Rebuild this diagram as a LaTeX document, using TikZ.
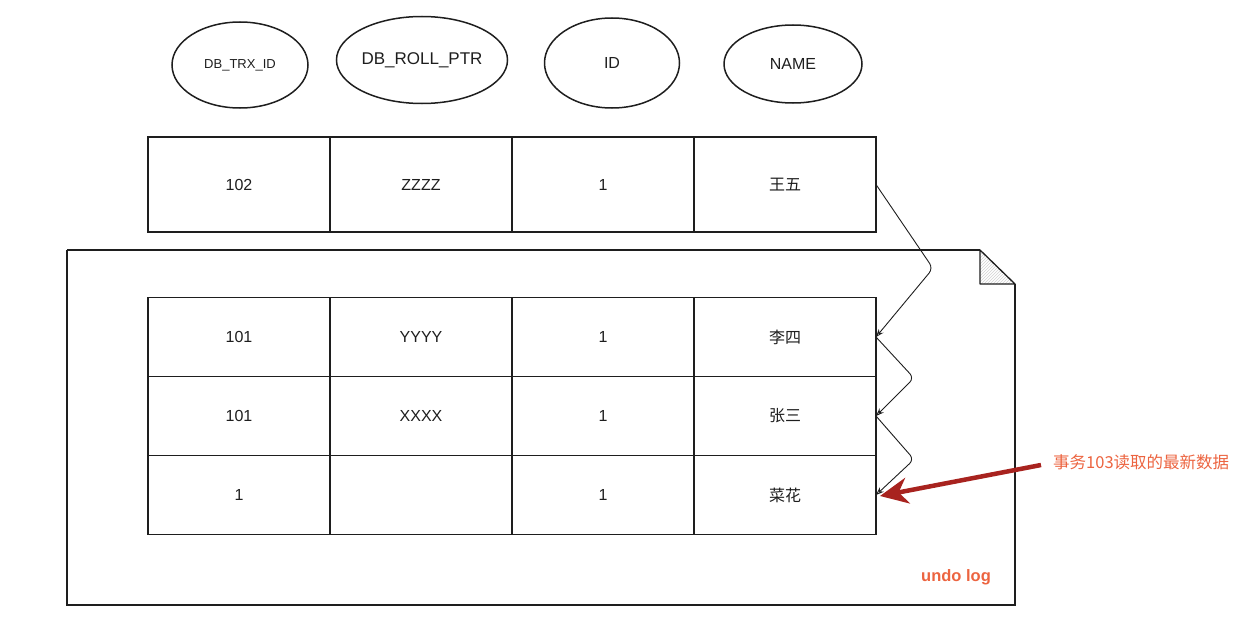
\documentclass[tikz,border=0pt]{standalone}
\usepackage{fontspec}
\setmainfont{Liberation Sans}
\newfontfamily\cjk{Noto Sans CJK SC}
\usetikzlibrary{arrows.meta,calc,patterns,shapes.geometric}
\definecolor{ink}{HTML}{1E1E1E}
\definecolor{darkred}{HTML}{A8231F}
\definecolor{note}{HTML}{EC6440}
\begin{document}
\begin{tikzpicture}[x=1pt,y=-1pt,
  ink/.style={draw=ink,line width=1.3pt},
  field/.style={draw=ink,line width=1.5pt,ellipse,inner sep=0pt,text=ink},
  cell/.style={ink,rectangle,minimum width=182pt,inner sep=0pt,outer sep=0pt,
    font=\fontsize{16}{19}\selectfont,text=ink},
  toprow/.style={cell,minimum height=95pt},
  logrow/.style={cell,minimum height=79pt},
  link/.style={draw=ink,line width=0.9pt,rounded corners=6pt,
    -{Stealth[open,length=8pt,width=6pt]}},
  readarr/.style={draw=darkred,line width=4.5pt,
    -{Stealth[length=28pt,width=26pt,inset=9pt]}},
  notetext/.style={text=note,font=\fontsize{16.5}{19}\selectfont,inner sep=0pt}
]
\useasboundingbox (0,0) rectangle (1240,626);

% column header ellipses
\node[field,minimum width=136pt,minimum height=86pt,font=\fontsize{13}{15}\selectfont] (h1) at (240,65) {DB\_TRX\_ID};
\node[field,minimum width=135pt,minimum height=87pt,font=\fontsize{17}{20}\selectfont] (h2) at (422,60) {DB\_ROLL\_PTR};
\node[field,minimum width=135pt,minimum height=90pt,font=\fontsize{16}{19}\selectfont] (h3) at (612,63) {ID};
\node[field,minimum width=138pt,minimum height=78pt,font=\fontsize{16}{19}\selectfont] (h4) at (793,64) {NAME};

% current row
\node[toprow] (t1) at (239,184.5) {102};
\node[toprow] (t2) at (421,184.5) {ZZZZ};
\node[toprow] (t3) at (603,184.5) {1};
\node[toprow] (t4) at (785,184.5) {\cjk 王五};

% undo log document
\draw[ink] (67,250) -- (980,250);
\draw[ink] (1015,284) -- (1015,605) -- (67,605) -- (67,250);
\fill[pattern=north east lines,pattern color=gray!35] (980,250) -- (980,284) -- (1015,284) -- cycle;
\draw[ink,line join=round] (980,250) -- (1015,284) -- (980,284) -- cycle;
\node[notetext,font=\fontsize{16.5}{19}\selectfont\bfseries] (undo) at (956,577) {undo log};

% undo log rows
\node[logrow] (a1) at (239,337) {101};
\node[logrow] (a2) at (421,337) {YYYY};
\node[logrow] (a3) at (603,337) {1};
\node[logrow] (a4) at (785,337) {\cjk 李四};
\node[logrow] (b1) at (239,416) {101};
\node[logrow] (b2) at (421,416) {XXXX};
\node[logrow] (b3) at (603,416) {1};
\node[logrow] (b4) at (785,416) {\cjk 张三};
\node[logrow] (c1) at (239,495) {1};
\node[logrow] (c2) at (421,495) {};
\node[logrow] (c3) at (603,495) {1};
\node[logrow] (c4) at (785,495) {\cjk 菜花};

% version chain
\draw[link] (t4.east) -- ($(t4.east)!0.55!(a4.east)+(57,0)$) -- (a4.east);
\draw[link] (a4.east) -- ($(a4.east)!0.52!(b4.east)+(38,0)$) -- (b4.east);
\draw[link] (b4.east) -- ($(b4.east)!0.55!(c4.east)+(38,0)$) -- (c4.east);

% annotation
\node[notetext,anchor=west] (read) at (1053,462) {\cjk 事务103读取的最新数据};
\coordinate (readstart) at ($(read.west)+(-12,3)$);
\draw[readarr] (readstart) -- ($(c4.east)+(4,1)$);
\end{tikzpicture}
\end{document}
